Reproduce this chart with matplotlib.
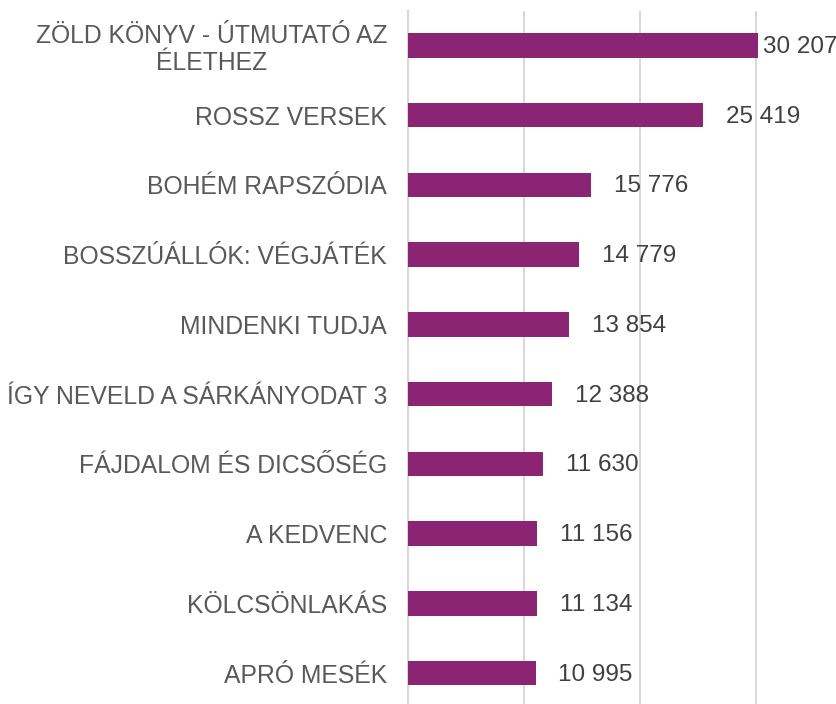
import matplotlib.pyplot as plt
from matplotlib.ticker import MultipleLocator

# Adatok (felülről lefelé)
filmek = ["ZÖLD KÖNYV - ÚTMUTATÓ AZ\nÉLETHEZ", "ROSSZ VERSEK", "BOHÉM RAPSZÓDIA",
          "BOSSZÚÁLLÓK: VÉGJÁTÉK", "MINDENKI TUDJA", "ÍGY NEVELD A SÁRKÁNYODAT 3",
          "FÁJDALOM ÉS DICSŐSÉG", "A KEDVENC", "KÖLCSÖNLAKÁS", "APRÓ MESÉK"]
nezok = [30207, 25419, 15776, 14779, 13854, 12388, 11630, 11156, 11134, 10995]

plt.rcParams['font.family'] = ['Liberation Sans', 'DejaVu Sans']

fig = plt.figure(figsize=(8.37, 7.04), dpi=100)
W, H = 837, 704
# a rajzterület jobbra és lefelé kilóg a képből (le van vágva)
x0, x1 = 408, 872
y0, y1 = 10.6, 708
ax = fig.add_axes([x0 / W, 1 - y1 / H, (x1 - x0) / W, (y1 - y0) / H])

pos = list(range(len(filmek)))
ax.barh(pos, nezok, height=0.35, color='#8B2573', zorder=3)
ax.set_ylim(len(filmek) - 0.5, -0.5)
ax.set_xlim(0, 40000)
ax.xaxis.set_major_locator(MultipleLocator(10000))
ax.grid(axis='x', color='#D9D9D9', linewidth=1.5, zorder=0)
ax.set_xticklabels([])
ax.tick_params(axis='both', length=0)
ax.tick_params(axis='y', pad=15)

ax.set_yticks(pos)
ax.set_yticklabels(filmek, fontsize=17.8, color='#595959', multialignment='center',
                   linespacing=1.15)

for s in ['top', 'right', 'bottom']:
    ax.spines[s].set_visible(False)
ax.spines['left'].set_color('#D9D9D9')
ax.spines['left'].set_linewidth(1.5)

for i, v in enumerate(nezok):
    txt = f"{v:,}".replace(",", " ")
    off = 3 if i == 0 else 16.5
    ax.annotate(txt, (v, i), xytext=(off, -1), textcoords='offset points',
                va='center', ha='left', fontsize=17.5, color='#404040')

fig.savefig("out.png", dpi=100)
